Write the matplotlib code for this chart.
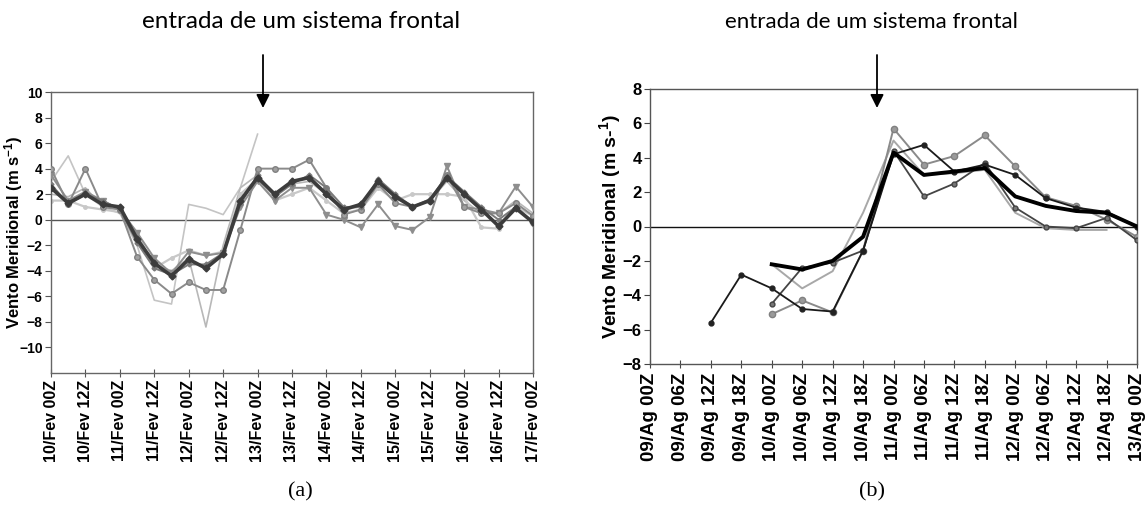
import numpy as np
import matplotlib
matplotlib.use("Agg")
import matplotlib.pyplot as plt

plt.rcParams['font.family'] = ['Liberation Sans', 'DejaVu Sans']
plt.rcParams['mathtext.fontset'] = 'custom'
plt.rcParams['mathtext.rm'] = 'Liberation Sans:bold'
plt.rcParams['mathtext.it'] = 'Liberation Sans:bold'
plt.rcParams['mathtext.bf'] = 'Liberation Sans:bold'

nan = np.nan

# ---------------- Panel (a) data: 6-hourly, 10/Fev 00Z .. 17/Fev 00Z
a_ticklabels = ["10/Fev 00Z", "10/Fev 12Z", "11/Fev 00Z", "11/Fev 12Z", "12/Fev 00Z",
                "12/Fev 12Z", "13/Fev 00Z", "13/Fev 12Z", "14/Fev 00Z", "14/Fev 12Z",
                "15/Fev 00Z", "15/Fev 12Z", "16/Fev 00Z", "16/Fev 12Z", "17/Fev 00Z"]
a_main = [2.5, 1.3, 2.0, 1.2, 1.0, -1.5, -3.4, -4.4, -3.1, -3.8, -2.7, 1.5, 3.3, 2.0, 3.0,
          3.3, 2.0, 0.8, 1.2, 3.0, 1.8, 1.0, 1.5, 3.3, 2.0, 0.8, -0.5, 0.9, -0.2]
a_circ = [4.0, 1.2, 4.0, 1.0, 0.8, -2.9, -4.7, -5.8, -4.9, -5.5, -5.5, -0.8, 4.0, 4.0, 4.0,
          4.7, 2.5, 0.4, 0.8, 2.8, 1.3, 1.0, 1.5, 3.5, 1.0, 0.5, 0.5, 1.3, 0.3]
a_tri = [3.5, 1.5, 2.2, 1.5, 0.8, -1.0, -3.0, -4.2, -2.5, -2.8, -2.6, 1.0, 3.0, 1.5, 2.5,
         2.5, 0.4, 0.0, -0.6, 1.2, -0.5, -0.8, 0.2, 4.2, 1.0, 0.8, 0.5, 2.6, 1.0]
a_peak = [3.0, 5.0, 2.0, 1.0, 0.5, -2.0, -6.3, -6.6, 1.2, 0.9, 0.4, 2.5, 6.7, nan, nan,
          nan, nan, nan, nan, nan, nan, nan, nan, nan, nan, nan, nan, nan, nan]
a_dip = [2.0, 1.8, 2.5, 1.0, 0.8, -1.5, -3.5, -4.0, -3.0, -8.4, -2.0, 2.5, 3.5, 2.0, 2.8,
         3.0, 2.0, 0.8, 1.0, 3.0, 1.8, 1.0, 1.5, 3.0, 1.5, 0.5, 0.5, 1.5, 0.5]
a_flat = [1.5, 1.5, 1.0, 0.8, 0.6, -1.0, -3.8, -3.0, -2.4, -2.8, -2.5, 2.0, 3.2, 1.5, 2.0,
          2.5, 1.5, 0.5, 0.8, 2.5, 1.5, 2.0, 2.0, 2.0, 1.8, -0.6, -0.7, 1.0, 0.3]
a_near = [2.8, 1.2, 2.0, 1.5, 0.8, -1.8, -3.8, -4.3, -3.5, -3.5, -2.6, 1.2, 3.5, 1.8, 2.8,
          3.5, 2.5, 1.0, 1.0, 3.2, 2.0, 1.0, 1.6, 3.4, 2.2, 1.0, 0.0, 1.0, -0.3]

# ---------------- Panel (b) data: 6-hourly, 09/Ag 00Z .. 13/Ag 00Z
b_ticklabels = ["09/Ag 00Z", "09/Ag 06Z", "09/Ag 12Z", "09/Ag 18Z",
                "10/Ag 00Z", "10/Ag 06Z", "10/Ag 12Z", "10/Ag 18Z",
                "11/Ag 00Z", "11/Ag 06Z", "11/Ag 12Z", "11/Ag 18Z",
                "12/Ag 00Z", "12/Ag 06Z", "12/Ag 12Z", "12/Ag 18Z", "13/Ag 00Z"]
b_thick = [nan, nan, nan, nan, -2.2, -2.5, -2.0, -0.6, 4.3, 3.0, 3.2, 3.4, 1.75, 1.2, 0.9, 0.8, 0.0]
b_black = [nan, nan, -5.6, -2.8, -3.6, -4.8, -4.95, -1.4, 4.2, 4.75, 3.2, 3.6, 3.0, 1.65, 1.1, 0.85, 0.0]
b_dark = [nan, nan, nan, nan, -4.5, -2.4, -2.1, -1.4, 4.4, 1.75, 2.5, 3.7, 1.1, 0.0, -0.1, 0.5, -0.8]
b_gray = [nan, nan, nan, nan, -5.1, -4.3, -5.0, -1.4, 5.7, 3.6, 4.1, 5.3, 3.5, 1.7, 1.2, 0.4, -0.6]
b_light = [nan, nan, nan, nan, -2.2, -3.6, -2.6, 0.8, 5.0, 3.0, 3.1, 3.3, 0.8, -0.1, -0.2, -0.2, nan]

W, H = 1147, 519
fig = plt.figure(figsize=(W / 100, H / 100), dpi=100)


def box(x0, y0, x1, y1):
    return [x0 / W, 1 - y1 / H, (x1 - x0) / W, (y1 - y0) / H]


# ---------------- Panel (a)
axa = fig.add_axes(box(51, 92, 533, 373))
xa = np.arange(len(a_main))
axa.plot(xa, a_peak, color='#c4c4c4', lw=1.2, zorder=2)
axa.plot(xa, a_dip, color='#b8b8b8', lw=1.2, zorder=2)
axa.plot(xa, a_flat, color='#c8c8c8', lw=1.6, marker='o', ms=2.5, mfc='#c8c8c8', mec='#c8c8c8', zorder=2)
axa.plot(xa, a_tri, color='#8e8e8e', lw=1.4, marker='v', ms=4, zorder=3)
axa.plot(xa, a_circ, color='#8a8a8a', lw=1.4, marker='o', ms=4, mfc='#a0a0a0', mec='#808080', zorder=3)
axa.plot(xa, a_near, color='#7a7a7a', lw=1.4, marker='D', ms=2.5, zorder=3)
axa.plot(xa, a_main, color='#3c3c3c', lw=2.6, marker='D', ms=3.5, zorder=4)
axa.axhline(0, color='#555555', lw=1.0, zorder=1)
axa.set_xlim(0, len(a_main) - 1)
axa.set_ylim(-12, 10)
axa.set_yticks(np.arange(-10, 11, 2))
axa.set_xticks(np.arange(0, len(a_main), 2))
axa.set_xticklabels(a_ticklabels, rotation=90, fontsize=11.5, fontweight='bold')
for t in axa.get_yticklabels():
    t.set_fontweight('bold')
    t.set_fontsize(10)
axa.tick_params(axis='y', direction='out', length=4, width=0.8, color='#555555', pad=2)
axa.tick_params(axis='x', direction='inout', length=6, width=0.8, color='#555555', pad=2)
axa.set_ylabel("Vento Meridional (m s$^{-1}$)", fontsize=12, fontweight='bold')
axa.yaxis.set_label_coords(-26 / 482, 0.5)
for s in axa.spines.values():
    s.set_color('#666666')
    s.set_linewidth(1.0)

# ---------------- Panel (b)
axb = fig.add_axes(box(650, 89, 1137, 364))
xb = np.arange(len(b_thick))
axb.plot(xb, b_light, color='#a8a8a8', lw=1.4, zorder=2)
axb.plot(xb, b_gray, color='#8a8a8a', lw=1.4, marker='o', ms=4.5, mfc='#9a9a9a', mec='#808080', zorder=3)
axb.plot(xb, b_dark, color='#444444', lw=1.3, marker='o', ms=3.5, mfc='#777777', mec='#444444', zorder=3)
axb.plot(xb, b_black, color='#1a1a1a', lw=1.3, marker='o', ms=3.5, mfc='#222222', mec='#222222', zorder=4)
axb.plot(xb, b_thick, color='#000000', lw=2.8, zorder=5)
axb.axhline(0, color='#111111', lw=1.0, zorder=1)
axb.set_xlim(0, len(b_thick) - 1)
axb.set_ylim(-8, 8)
axb.set_yticks(np.arange(-8, 9, 2))
axb.set_xticks(xb)
axb.set_xticklabels(b_ticklabels, rotation=90, fontsize=13.5, fontweight='bold')
for t in axb.get_yticklabels():
    t.set_fontweight('bold')
    t.set_fontsize(12)
axb.tick_params(axis='y', direction='out', length=4, width=0.8, color='#444444', pad=2)
axb.tick_params(axis='x', direction='inout', length=6, width=0.8, color='#444444', pad=3)
axb.set_ylabel("Vento Meridional (m s-$^{1}$)", fontsize=14, fontweight='bold')
axb.yaxis.set_label_coords(-27 / 487, 0.5)
for s in axb.spines.values():
    s.set_color('#555555')
    s.set_linewidth(1.0)

# ---------------- annotations
def fx(px):
    return px / W


def fy(py):
    return 1 - py / H


for cx, ax_arrow, fs in [(301, 263, 17.5), (871, 877, 16)]:
    fig.text(fx(cx), fy(22), "entrada de um sistema frontal", ha='center', va='center',
             fontsize=fs, family=['Lato', 'DejaVu Sans'])
    fig.add_artist(matplotlib.patches.FancyArrowPatch(
        (fx(ax_arrow), fy(55)), (fx(ax_arrow), fy(108)), transform=fig.transFigure,
        arrowstyle='-|>,head_length=8,head_width=4', color='black', lw=1.3,
        shrinkA=0, shrinkB=0))

fig.text(fx(300), fy(492), "(a)", ha='center', va='center', fontsize=16,
         family=['Liberation Serif', 'DejaVu Serif'])
fig.text(fx(872), fy(492), "(b)", ha='center', va='center', fontsize=16,
         family=['Liberation Serif', 'DejaVu Serif'])

fig.savefig("out.png", dpi=100)
